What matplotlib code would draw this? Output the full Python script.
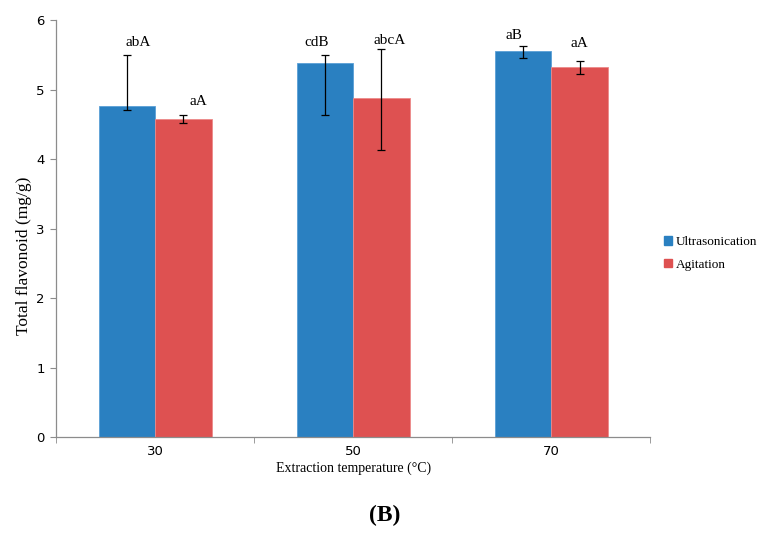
import numpy as np
import matplotlib
matplotlib.use("Agg")
import matplotlib.pyplot as plt
from matplotlib.patches import Patch

# data
temps = ["30", "50", "70"]
ultra = [4.77, 5.38, 5.56]
ultra_hi = [5.50, 5.50, 5.63]
ultra_lo = [4.71, 4.63, 5.46]
agit = [4.58, 4.88, 5.32]
agit_hi = [4.64, 5.58, 5.42]
agit_lo = [4.52, 4.13, 5.22]
ultra_lab = ["abA", "cdB", "aB"]
agit_lab = ["aA", "abcA", "aA"]

# hand nudges for the letters (layout only)
ultra_dx = [0.055, -0.04, -0.045]
agit_dx = [0.078, 0.04, 0.0]
ultra_dy = [0.18, 0.18, 0.15]
agit_dy = [0.19, 0.13, 0.25]

blue = "#2A80C1"
red = "#DE5151"
grey = "#8C8C8C"
serif = "Liberation Serif"

fig = plt.figure(figsize=(7.74, 5.47), dpi=100)
ax = fig.add_axes([0.0724, 0.201, 0.768, 0.762])

x = np.arange(len(temps))
w = 0.285
u = np.array(ultra)
a = np.array(agit)
u_err = [u - np.array(ultra_lo), np.array(ultra_hi) - u]
a_err = [a - np.array(agit_lo), np.array(agit_hi) - a]

ekw = dict(ecolor="black", elinewidth=0.9, capsize=3, capthick=0.9)
ax.bar(x - w / 2, u, w, color=blue, edgecolor="#5A9FD6", linewidth=0.6,
       yerr=u_err, error_kw=ekw)
ax.bar(x + w / 2, a, w, color=red, edgecolor="#EC8A8A", linewidth=0.6,
       yerr=a_err, error_kw=ekw)

# significance letters
for i in range(len(temps)):
    ax.text(x[i] - w / 2 + ultra_dx[i], ultra_hi[i] + ultra_dy[i], ultra_lab[i],
            ha="center", va="center", fontsize=11, family=serif)
    ax.text(x[i] + w / 2 + agit_dx[i], agit_hi[i] + agit_dy[i], agit_lab[i],
            ha="center", va="center", fontsize=11, family=serif)

ax.set_xlim(-0.5, 2.5)
ax.set_ylim(0, 6)
ax.set_yticks(range(0, 7))
ax.set_xticks(x)
ax.set_xticklabels(temps)
ax.set_xticks([-0.5, 0.5, 1.5, 2.5], minor=True)
ax.tick_params(axis="x", which="major", length=0, pad=6, labelsize=9.5)
ax.tick_params(axis="x", which="minor", length=4, color=grey)
ax.tick_params(axis="y", length=4, color=grey, labelsize=9.5, pad=4)

for s in ["top", "right"]:
    ax.spines[s].set_visible(False)
for s in ["left", "bottom"]:
    ax.spines[s].set_color(grey)
    ax.spines[s].set_linewidth(0.9)

ax.set_xlabel("Extraction temperature (\u00b0C)", fontsize=10, family=serif, labelpad=2)
ax.set_ylabel("Total flavonoid (mg/g)", fontsize=12.5, family=serif)
ax.yaxis.set_label_coords(-0.040, 0.434)

handles = [Patch(color=blue), Patch(color=red)]
fig.legend(handles, ["Ultrasonication", "Agitation"], loc="center left",
           bbox_to_anchor=(0.843, 0.537), frameon=False, handlelength=0.6,
           handleheight=0.6, handletextpad=0.3, labelspacing=0.8,
           prop=dict(family=serif, size=9.5))

fig.text(0.497, 0.058, "(B)", ha="center", va="center", fontsize=17,
         fontweight="bold", family=serif)

fig.savefig("out.png", dpi=100)
